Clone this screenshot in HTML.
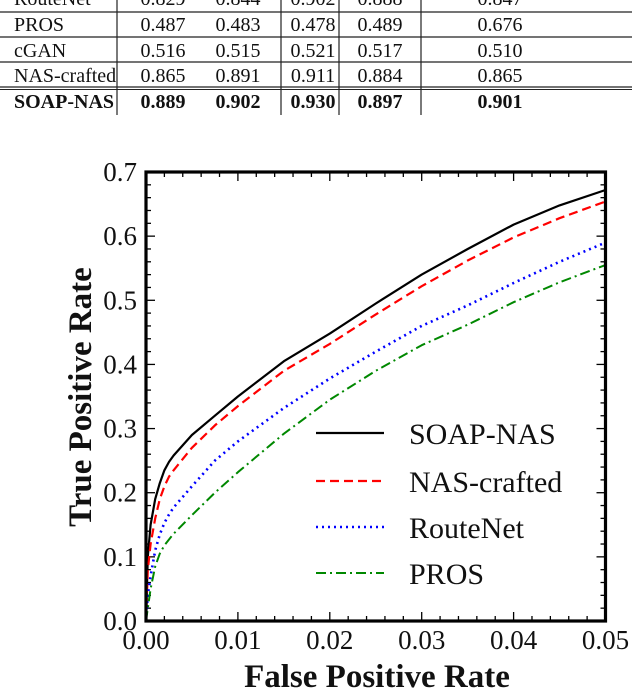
<!DOCTYPE html>
<html><head><meta charset="utf-8"><style>
body{margin:0;background:#fff;width:640px;height:690px;overflow:hidden;font-family:"Liberation Serif",serif}
svg{display:block}
</style></head><body>
<svg id="chart" width="640" height="690" font-family="Liberation Serif, serif">
<g id="table"></g>
<g id="plot"></g>
</svg>
<script>
const NS="http://www.w3.org/2000/svg";
function mk(tag,attrs,parent,txt){const e=document.createElementNS(NS,tag);for(const k in attrs)e.setAttribute(k,attrs[k]);if(txt!==undefined)e.textContent=txt;parent.appendChild(e);return e;}

// ---- table data ----
const tableRows=["RouteNet","PROS","cGAN","NAS-crafted","SOAP-NAS"];
const tableVals=[["0.829","0.844","0.902","0.888","0.847"],["0.487","0.483","0.478","0.489","0.676"],["0.516","0.515","0.521","0.517","0.510"],["0.865","0.891","0.911","0.884","0.865"],["0.889","0.902","0.930","0.897","0.901"]];

// ---- chart data ----
const fpr=[0,0.0002,0.0005,0.001,0.0015,0.002,0.0025,0.003,0.005,0.0075,0.01,0.015,0.02,0.025,0.03,0.035,0.04,0.045,0.05];
const soapNas=[0,0.1,0.15,0.19,0.215,0.235,0.248,0.258,0.29,0.32,0.35,0.405,0.448,0.495,0.54,0.58,0.618,0.648,0.672];
const nasCrafted=[0,0.08,0.12,0.16,0.19,0.21,0.225,0.235,0.27,0.305,0.335,0.39,0.432,0.478,0.522,0.562,0.598,0.628,0.654];
const routeNet=[0,0.04,0.07,0.11,0.135,0.153,0.166,0.177,0.21,0.25,0.28,0.332,0.378,0.42,0.46,0.492,0.527,0.56,0.59];
const pros=[0,0.02,0.05,0.085,0.105,0.118,0.127,0.136,0.165,0.2,0.232,0.292,0.345,0.39,0.43,0.462,0.497,0.528,0.555];
const xTicks=["0.00","0.01","0.02","0.03","0.04","0.05"];
const yTicks=["0.0","0.1","0.2","0.3","0.4","0.5","0.6","0.7"];
const seriesNames=["SOAP-NAS","NAS-crafted","RouteNet","PROS"];

// ---- draw table ----
const tg=document.getElementById('table');
const rowY=[-2,24,50,75,101];
const colX=[163,238,313,380,500];
[12,37,62].forEach(y=>mk('line',{x1:0,x2:632,y1:y,y2:y,stroke:'#222','stroke-width':1.3},tg));
mk('line',{x1:0,x2:632,y1:87,y2:87,stroke:'#222','stroke-width':1.3},tg);
mk('line',{x1:0,x2:632,y1:89.5,y2:89.5,stroke:'#222','stroke-width':1},tg);
[117,281,339,421].forEach(x=>mk('line',{x1:x,x2:x,y1:0,y2:115,stroke:'#222','stroke-width':1.2},tg));
tableRows.forEach((r,i)=>{
  const bold=i===4?'bold':'normal';
  const t=mk('text',{x:14,y:rowY[i]+7,'font-size':20,'font-weight':bold,fill:'#111'},tg,r);
  
  
  tableVals[i].forEach((v,j)=>{
    const c=mk('text',{x:colX[j],y:rowY[i]+7,'font-size':20,'font-weight':bold,'text-anchor':'middle',fill:'#111'},tg,v);
    
    
  });
});

// ---- draw chart ----
const pg=document.getElementById('plot');
const L=146,R=605.5,T=172,B=621,XMAX=0.05,YMAX=0.7;
const sx=v=>L+v/XMAX*(R-L), sy=v=>B-v/YMAX*(B-T);
for(let k=0;k<=25;k++){const x=L+k*(R-L)/25;const len=k%5===0?9:5;
  mk('line',{x1:x,x2:x,y1:B,y2:B-len,stroke:'#000','stroke-width':1.3},pg);
  mk('line',{x1:x,x2:x,y1:T,y2:T+len,stroke:'#000','stroke-width':1.3},pg);}
for(let k=0;k<=35;k++){const y=B-k*(B-T)/35;const len=k%5===0?9:5;
  mk('line',{x1:L,x2:L+len,y1:y,y2:y,stroke:'#000','stroke-width':1.3},pg);
  mk('line',{x1:R,x2:R-len,y1:y,y2:y,stroke:'#000','stroke-width':1.3},pg);}
xTicks.forEach(t=>{const e=mk('text',{x:sx(parseFloat(t)),y:649,'font-size':27,'text-anchor':'middle',fill:'#111'},pg,t);
  
  });
yTicks.forEach(t=>{const e=mk('text',{x:137,y:sy(parseFloat(t))+9,'font-size':27,'text-anchor':'end',fill:'#111'},pg,t);
  
  });
const xt=mk('text',{x:377,y:687,'font-size':33,'font-weight':'bold','text-anchor':'middle',fill:'#111'},pg,'False Positive Rate');


const yt=mk('text',{x:0,y:0,'font-size':33,'font-weight':'bold','text-anchor':'middle',fill:'#111',transform:'translate(91,397) rotate(-90)'},pg,'True Positive Rate');



const styles=[{c:'#000',d:'',w:2.2},{c:'#f00',d:'9 5',w:2.2},{c:'#00f',d:'2 4',w:2.6},{c:'#080',d:'10 4 2 4',w:2}];
const allSeries=[soapNas,nasCrafted,routeNet,pros];
const lineNames=['series-soap-nas','series-nas-crafted','series-routenet','series-pros'];
const clip=mk('clipPath',{id:'cp'},pg);mk('rect',{x:L,y:T,width:R-L,height:B-T},clip);
allSeries.forEach((s,i)=>{
  const d=s.map((v,j)=>(j?'L':'M')+sx(fpr[j]).toFixed(1)+','+sy(v).toFixed(1)).join(' ');
  const p=mk('path',{d:d,fill:'none',stroke:styles[i].c,'stroke-width':styles[i].w,'stroke-dasharray':styles[i].d,'stroke-linejoin':'round','clip-path':'url(#cp)'},pg);
  
  
});
mk('rect',{x:L,y:T,width:R-L,height:B-T,fill:'none',stroke:'#000','stroke-width':3.2},pg);
const lg=mk('g',{},pg);


const legY=[433,481,527,573];
seriesNames.forEach((n,i)=>{
  mk('line',{x1:316,x2:384,y1:legY[i],y2:legY[i],stroke:styles[i].c,'stroke-width':styles[i].w,'stroke-dasharray':styles[i].d},lg);
  const t=mk('text',{x:409,y:legY[i]+11,'font-size':30,fill:'#111'},lg,n);
  
  
});
</script>
</body></html>
